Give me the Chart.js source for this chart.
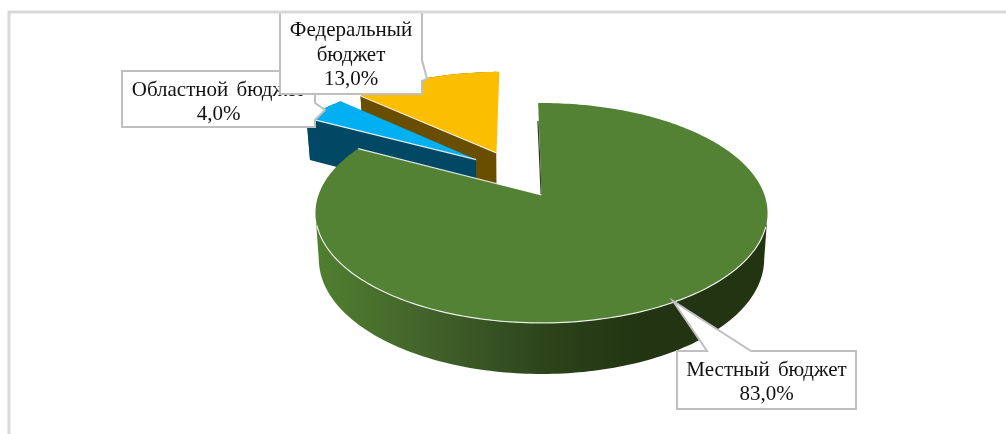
<!DOCTYPE html>
<html lang="ru">
<head>
<meta charset="utf-8">
<title>Бюджет</title>
<style>html,body{margin:0;padding:0;background:#fff}canvas{display:block}</style>
<script src="https://cdn.jsdelivr.net/npm/chart.js@4"></script>
</head>
<body>
<canvas id="c" width="1006" height="434"></canvas>
<script>
const categories = ["Местный бюджет", "Областной бюджет", "Федеральный бюджет"];
const shares = [83.0, 4.0, 13.0];
const topColors = ["#548235", "#00B0F0", "#FCBE00"];
const wallColors = ["#2f4a1c", "#004864", "#6A4E00"];

// Perspective view of the pie plane
const VIEW = {cx: 541.5, cy: 195, B: 223, A: 107, p: 0.1636, lowK: 0.985, lowA: 1.044, lowY: 45.4};
// Slice explosion in plane units (x, z)
const EXPLODE = [[0, 0], [-0.31, -0.35], [-0.2156, -0.419]];
// Callout boxes: polygon outline, text lines placed with it
const CALLOUTS = [
  {slice: 1, pts: [[122,71],[315,71],[315,103],[325,110],[315,120],[315,127],[122,127]],
   cx: 218.5, base: [96, 120], lines: i => [categories[i], pct(i)]},
  {slice: 2, pts: [[280,12],[422,12],[422,60],[427,79],[422,81],[422,94],[280,94]],
   cx: 351, base: [36, 61, 85], lines: i => [...categories[i].split(" "), pct(i)]},
  {slice: 0, pts: [[677,351],[707,351],[673,301],[751,351],[856,351],[856,409],[677,409]],
   cx: 766.5, base: [376, 400], lines: i => [categories[i], pct(i)]}
];
function pct(i) { return shares[i].toFixed(1).replace(".", ",") + "%"; }

function project(x, z, low) {
  const s = 1 / (1 - VIEW.p * z);
  const X = VIEW.B * x * s, Y = VIEW.A * z * s;
  return low
    ? [VIEW.cx + X * VIEW.lowK, VIEW.cy + VIEW.lowY + Y * VIEW.lowA]
    : [VIEW.cx + X, VIEW.cy + Y];
}
function poly(ctx, pts) {
  ctx.beginPath();
  pts.forEach((q, i) => i ? ctx.lineTo(q[0], q[1]) : ctx.moveTo(q[0], q[1]));
  ctx.closePath();
}
function angles(a0, a1) {
  const out = [], n = Math.max(8, Math.ceil((a1 - a0) / 0.02));
  for (let k = 0; k <= n; k++) out.push(a0 + (a1 - a0) * k / n);
  return out;
}
function drawSlice(ctx, arc, i) {
  const off = EXPLODE[i], a0 = arc.startAngle, a1 = arc.endAngle;
  const as = angles(a0, a1);
  const top = as.map(a => project(off[0] + Math.cos(a), off[1] + Math.sin(a), false));
  const low = as.map(a => project(off[0] + Math.cos(a), off[1] + Math.sin(a), true));
  const apexT = project(off[0], off[1], false), apexL = project(off[0], off[1], true);

  ctx.save();
  if (i > 0) { ctx.beginPath(); ctx.rect(0, 0, apexT[0], 434); ctx.clip(); }
  if (i === 0) {
    const wall = ctx.createLinearGradient(318, 0, 700, 0);
    wall.addColorStop(0, "#507f30");
    wall.addColorStop(0.28, "#42632a");
    wall.addColorStop(0.62, "#2b421a");
    wall.addColorStop(0.85, "#223412");
    wall.addColorStop(1, "#223412");
    ctx.fillStyle = wall;
    // the visible front band, between the two silhouette tangents
    const idx = as.map((a, k) => k).filter(k => Math.sin(as[k]) >= VIEW.p);
    const t = idx.map(k => top[k]), l = idx.map(k => low[k]);
    poly(ctx, t.concat(l.reverse())); ctx.fill();
  } else {
    ctx.fillStyle = wallColors[i];
    poly(ctx, [apexT, top[0], low[0], apexL]); ctx.fill();
    poly(ctx, top.concat(low.slice().reverse())); ctx.fill();
  }
  ctx.restore();

  if (i === 0) { // thin dark sliver along the opening edge
    ctx.strokeStyle = "#2b3a1e"; ctx.lineWidth = 1.2;
    ctx.beginPath(); ctx.moveTo(apexT[0] - 0.3, apexT[1]); ctx.lineTo(top[0][0] - 0.2, top[0][1] + 18); ctx.stroke();
  }
  // top face
  ctx.fillStyle = topColors[i];
  poly(ctx, [apexT].concat(top)); ctx.fill();

  // light bevel: the cut edge facing the viewer and the front rim
  ctx.strokeStyle = "rgba(255,255,255,0.85)"; ctx.lineWidth = 1.2;
  const edgeEnd = i === 0 ? top[top.length - 1] : top[0];
  ctx.beginPath(); ctx.moveTo(apexT[0], apexT[1]); ctx.lineTo(edgeEnd[0], edgeEnd[1]); ctx.stroke();
  if (i === 0) {
    const rim = top.filter((q, k) => Math.sin(as[k]) > 0.27);
    ctx.beginPath();
    rim.forEach((q, k) => k ? ctx.lineTo(q[0], q[1]) : ctx.moveTo(q[0], q[1]));
    ctx.stroke();
  }
}

function drawFrame(ctx) {
  ctx.strokeStyle = "#d9d9d9"; ctx.lineWidth = 3;
  ctx.beginPath(); ctx.moveTo(9, 436); ctx.lineTo(9, 12); ctx.lineTo(1008, 12); ctx.stroke();
}

const slicesPlugin = {
  id: "slices3d",
  beforeDraw(chart) {
    const ctx = chart.ctx;
    ctx.save();
    ctx.fillStyle = "#fff"; ctx.fillRect(0, 0, chart.width, chart.height);
    ctx.restore();
  },
  beforeDatasetDraw(chart, args) {
    const ctx = chart.ctx, arcs = args.meta.data;
    ctx.save();
    [2, 1, 0].forEach(i => drawSlice(ctx, arcs[i], i));
    ctx.restore();
    return false;
  },
  afterDraw(chart) {
    const ctx = chart.ctx;
    ctx.save();
    CALLOUTS.forEach(c => {
      poly(ctx, c.pts);
      ctx.fillStyle = "#fff"; ctx.fill();
      ctx.strokeStyle = "#bfbfbf"; ctx.lineWidth = 2; ctx.lineJoin = "miter"; ctx.stroke();
      ctx.fillStyle = "#111"; ctx.textAlign = "center"; ctx.textBaseline = "alphabetic";
      ctx.font = '21px "Liberation Serif", serif';
      ctx.wordSpacing = "3px";
      c.lines(c.slice).forEach((t, k) => ctx.fillText(t, c.cx, c.base[k]));
    });
    drawFrame(ctx);
    ctx.restore();
  }
};

new Chart(document.getElementById("c"), {
  type: "pie",
  data: {
    labels: categories,
    datasets: [{ data: shares, backgroundColor: topColors, borderWidth: 0 }]
  },
  options: {
    responsive: false,
    animation: false,
    rotation: -1,
    plugins: { legend: { display: false }, tooltip: { enabled: false } }
  },
  plugins: [slicesPlugin]
});
</script>
</body>
</html>
